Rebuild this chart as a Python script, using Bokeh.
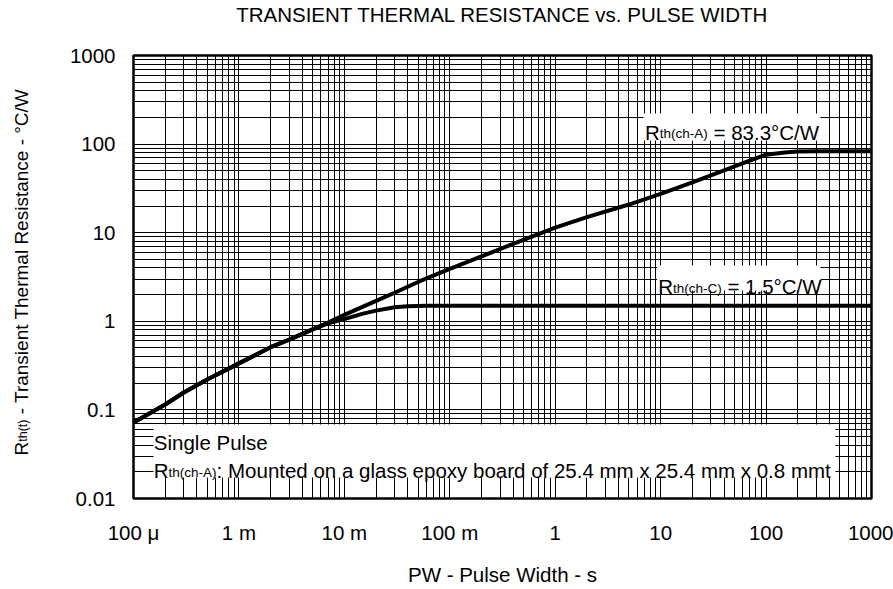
import math
from bokeh.plotting import figure
from bokeh.layouts import row
from bokeh.models import (Range1d, FixedTicker, CustomJSTickFormatter, Label, BoxAnnotation, LogAxis)
from bokeh.embed import file_html
from bokeh.resources import INLINE

# ---------------- data ----------------
pw_a = [1e-4, 2e-4, 3e-4, 5e-4, 1e-3, 2e-3, 3e-3, 5e-3, 7e-3, 1e-2, 2e-2, 3e-2, 5e-2,
        0.1, 0.2, 0.5, 1, 2, 5, 10, 20, 40, 70, 100, 150, 200, 300, 500, 1000]
rth_a = [0.072, 0.115, 0.157, 0.22, 0.335, 0.51, 0.62, 0.81, 0.97, 1.18, 1.70, 2.10, 2.78,
         3.9, 5.4, 8.3, 11.4, 15.0, 20.8, 27.5, 37.0, 50.5, 65.0, 76.0, 80.5, 82.3, 83.1, 83.3, 83.3]

pw_c = [1e-4, 2e-4, 3e-4, 5e-4, 1e-3, 2e-3, 3e-3, 5e-3, 7e-3, 1e-2, 1.5e-2, 2e-2, 3e-2,
        4e-2, 6e-2, 0.1, 1, 10, 100, 1000]
rth_c = [0.072, 0.115, 0.157, 0.22, 0.335, 0.51, 0.62, 0.81, 0.95, 1.06, 1.22, 1.32, 1.44,
         1.48, 1.5, 1.5, 1.5, 1.5, 1.5, 1.5]

x_ticks = [1e-4, 1e-3, 1e-2, 1e-1, 1, 10, 100, 1000]
x_labels = ["100 \u03bc", "1 m", "10 m", "100 m", "1", "10", "100", "1000"]
y_ticks = [0.01, 0.1, 1, 10, 100, 1000]
y_labels = ["0.01", "0.1", "1", "10", "100", "1000"]

title_text = "TRANSIENT THERMAL RESISTANCE vs. PULSE WIDTH"
xlabel_text = "PW - Pulse Width - s"

FONT = "Liberation Sans"
BIG = 20.5
SUB = 13.5
YBIG = 19
YSUB = 12.5
H = 589
LW = 40

p = figure(width=893 - LW, height=H, x_axis_type="log", y_axis_type="log",
           x_range=Range1d(1e-4, 1e3), y_range=Range1d(0.01, 1000),
           output_backend="svg", toolbar_location=None, title=title_text,
           min_border_left=93, min_border_right=22, min_border_top=55, min_border_bottom=91)
p.background_fill_color = "white"
p.border_fill_color = "white"
p.outline_line_color = "black"
p.outline_line_width = 2.5

p.title.text_font = FONT
p.title.text_font_size = f"{BIG}px"
p.title.text_font_style = "normal"
p.title.text_color = "black"
p.title.align = "center"
p.title.vertical_align = "top"
p.title.standoff = 0

# empty spacer between the title and the frame
spacer = LogAxis(ticker=FixedTicker(ticks=[]), axis_line_color=None,
                 major_tick_line_color=None, minor_tick_line_color=None,
                 major_label_text_color=None, major_tick_out=28, major_tick_in=0,
                 minor_tick_out=0, minor_tick_in=0, major_label_standoff=0)
p.add_layout(spacer, "above")

x_minor = [k * t for t in x_ticks[:-1] for k in range(2, 10)]
y_minor = [k * t for t in y_ticks[:-1] for k in range(2, 10)]

p.xaxis[0].ticker = FixedTicker(ticks=x_ticks, minor_ticks=x_minor)
p.yaxis[0].ticker = FixedTicker(ticks=y_ticks, minor_ticks=y_minor)

fmt_code = """
let best = 0, bd = 1e9;
for (let i = 0; i < tvals.length; i++) {
  const d = Math.abs(Math.log10(tick) - Math.log10(tvals[i]));
  if (d < bd) { bd = d; best = i; }
}
return bd < 1e-6 ? tlabels[best] : "";
"""
xax = p.below[0]
yax = p.left[0]
xax.formatter = CustomJSTickFormatter(args=dict(tvals=x_ticks, tlabels=x_labels), code=fmt_code)
yax.formatter = CustomJSTickFormatter(args=dict(tvals=y_ticks, tlabels=y_labels), code=fmt_code)

for ax in (xax, yax):
    ax.axis_line_color = None
    ax.major_tick_line_color = None
    ax.minor_tick_line_color = None
    ax.major_tick_out = 0
    ax.major_tick_in = 0
    ax.minor_tick_out = 0
    ax.minor_tick_in = 0
    ax.major_label_text_font = FONT
    ax.major_label_text_font_size = f"{BIG}px"
    ax.major_label_text_color = "black"
xax.major_label_standoff = 22
yax.major_label_standoff = 18

xax.axis_label = xlabel_text
xax.axis_label_text_font = FONT
xax.axis_label_text_font_size = f"{BIG}px"
xax.axis_label_text_font_style = "normal"
xax.axis_label_text_color = "black"
xax.axis_label_standoff = 16

for g in (p.xgrid[0], p.ygrid[0]):
    g.grid_line_color = "black"
    g.grid_line_width = 1
    g.minor_grid_line_color = "black"
    g.minor_grid_line_width = 1

p.line(pw_a, rth_a, line_color="black", line_width=4, line_join="round", line_cap="round")
p.line(pw_c, rth_c, line_color="black", line_width=4, line_join="round", line_cap="round")

# ---------------- text helpers ----------------
W = {' ': 278, '(': 333, ')': 333, '-': 333, '.': 278, ':': 278, '/': 278, '=': 584,
     '\u00b0': 400, 'A': 667, 'C': 722, 'M': 833, 'P': 667, 'R': 722, 'S': 667, 'W': 944,
     'T': 611, 'H': 722, 'E': 667, 'I': 278, 'N': 722, 'L': 556, 'U': 722, 'D': 722,
     'a': 556, 'b': 556, 'c': 500, 'd': 556, 'e': 556, 'f': 278, 'g': 556, 'h': 556,
     'i': 222, 'l': 222, 'm': 833, 'n': 556, 'o': 556, 'p': 556, 'r': 333, 's': 500,
     't': 278, 'u': 556, 'x': 500, 'y': 500, 'k': 500, 'v': 500}


def tw(s, size):
    return sum(W.get(c, 556) for c in s) / 1000.0 * size


def rich(fig, parts, x0, y0, vertical=False):
    adv = 0.0
    for text, size, shift in parts:
        stripped = text.lstrip(" ")
        adv += tw(text[:len(text) - len(stripped)], size)
        if vertical:
            lab = Label(x=x0 + shift, y=y0 + adv, text=stripped, angle=math.pi / 2,
                        x_units="screen", y_units="screen")
        else:
            lab = Label(x=x0 + adv, y=y0 + shift, text=stripped,
                        x_units="screen", y_units="screen")
        lab.text_font = FONT
        lab.text_font_size = f"{size}px"
        lab.text_color = "black"
        lab.text_baseline = "alphabetic"
        lab.text_align = "left"
        fig.add_layout(lab)
        adv += tw(stripped, size)


def wbox(left, right, bottom, top):
    p.add_layout(BoxAnnotation(left=left, right=right, bottom=bottom, top=top,
                               left_units="screen", right_units="screen",
                               bottom_units="screen", top_units="screen",
                               fill_color="white", fill_alpha=1.0, line_alpha=0))


# white label backgrounds (frame-relative screen px)
wbox(20, 702, 21, 74)
wbox(510, 687, 358, 385)
wbox(523.5, 687, 208, 233)

rich(p, [("Single Pulse", BIG, 0)], 20.3, 55.7)
rich(p, [("R", BIG, 0), ("th(ch-A)", SUB, -1.5),
         (": Mounted on a glass epoxy board of 25.4 mm x 25.4 mm x 0.8 mmt", BIG, 0)], 20.3, 28)
rich(p, [("R", BIG, 0), ("th(ch-A)", SUB, -1.5), (" = 83.3\u00b0C/W", BIG, 0)], 511.5, 366.3)
rich(p, [("R", BIG, 0), ("th(ch-C)", SUB, -1.5), (" = 1.5\u00b0C/W", BIG, 0)], 524.7, 212)

# y-axis label in a narrow side figure (frame-relative screen px)
side = figure(width=LW, height=H, output_backend="svg", toolbar_location=None, title=None,
              x_axis_location=None, y_axis_location=None, min_border=0,
              x_range=Range1d(0, 1), y_range=Range1d(0, 1))
side.outline_line_color = None
side.grid.visible = False
side.background_fill_color = "white"
side.border_fill_color = "white"
rich(side, [("R", YBIG, 0), ("th(t)", YSUB, 1.5),
            (" - Transient Thermal Resistance - \u00b0C/W", YBIG, 0)], 21, 43, vertical=True)

layout = row(side, p, spacing=0)
open("out.html", "w").write(file_html(layout, INLINE))
